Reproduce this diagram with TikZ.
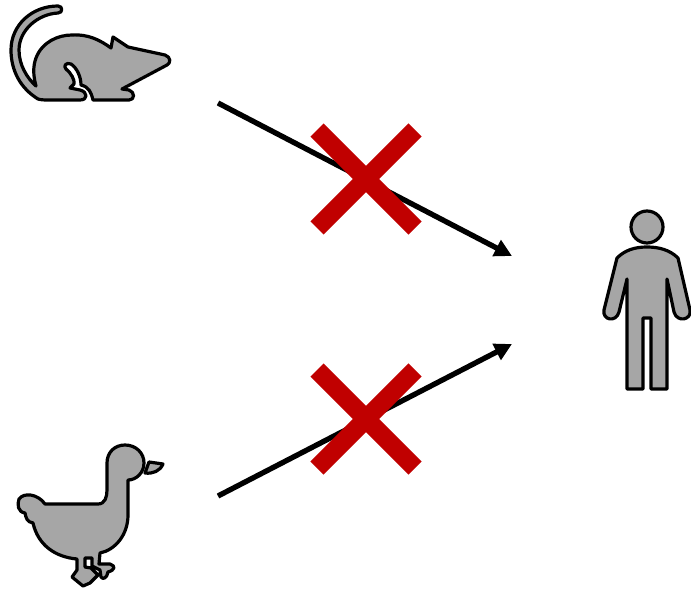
\documentclass[tikz,border=0pt]{standalone}
\usetikzlibrary{arrows.meta}
\definecolor{animalgray}{RGB}{166,166,166}
\definecolor{crossred}{RGB}{192,0,0}

\begin{document}
\begin{tikzpicture}[
    x=0.75pt, y=-0.75pt,
    animal/.style={draw=black, fill=animalgray, line width=2.4pt, line join=round},
    route/.style={draw=black, line width=4pt, -{Triangle[length=13pt,width=13pt]}},
    crossbar/.style={draw=crossred, line width=14pt}
]
\useasboundingbox (0,0) rectangle (691,588);

\coordinate (mousestart) at (218,103);
\coordinate (duckstart) at (218,496);
\coordinate (humantop) at (512,256);
\coordinate (humanbottom) at (512,344);
\coordinate (topcross) at (366,179);
\coordinate (bottomcross) at (366,419);

% mouse
\draw[animal] (38,99) .. controls (20,88) and (11,70) .. (11,50)
    .. controls (11,25) and (32,6) .. (58,6)
    .. controls (63,6) and (63,13) .. (58,13)
    .. controls (38,14) and (19,30) .. (19,50)
    .. controls (19,65) and (27,78) .. (36,86)
    .. controls (33,75) and (33,66) .. (36,58)
    .. controls (42,42) and (58,35) .. (72,35)
    .. controls (88,34) and (100,40) .. (111,48)
    -- (113,37) -- (128,47) -- (165,55)
    .. controls (171,57) and (171,63) .. (167,65)
    -- (122,89) -- (129,90)
    .. controls (135,92) and (135,100) .. (129,100)
    -- (93,100)
    .. controls (91,92) and (89,87) .. (81,85)
    .. controls (81,77) and (77,68) .. (71,64)
    .. controls (66,62) and (63,66) .. (66,69)
    .. controls (71,73) and (75,80) .. (74,84)
    -- (70,88) -- (80,90)
    .. controls (88,92) and (88,100) .. (80,100)
    -- (50,100) .. controls (45,100) and (41,100) .. (38,99) -- cycle;

% duck
\draw[animal] (45,504) -- (98,504)
    .. controls (105,504) and (107,497) .. (107,490)
    -- (107,463)
    .. controls (107,452) and (115,445) .. (125,445)
    .. controls (136,445) and (144,453) .. (144,463)
    .. controls (144,473) and (136,480) .. (128,480)
    -- (128,515)
    .. controls (128,535) and (115,550) .. (100,553)
    -- (99,564) -- (110,564)
    .. controls (116,566) and (115,570) .. (108,572)
    .. controls (107,578) and (103,580) .. (101,577)
    -- (100,570) -- (92,566) -- (92,558) -- (85,558) -- (85,567) -- (91,568)
    -- (98,575) -- (90,583) -- (83,586)
    -- (72,577) -- (77,570) -- (77,559)
    .. controls (55,557) and (38,545) .. (33,523)
    .. controls (27,522) and (26,518) .. (25,513)
    .. controls (18,512) and (17,505) .. (19,499)
    .. controls (24,492) and (38,494) .. (45,504) -- cycle;
\draw[animal] (145,473) -- (149,462) -- (163,464)
    .. controls (160,471) and (153,474) .. (145,473) -- cycle;

% human
\draw[animal] (647,227) circle (16);
\draw[animal] (617,258) .. controls (625,250) and (635,247) .. (647,247)
    .. controls (659,247) and (670,250) .. (678,258)
    -- (690,310)
    .. controls (692,320) and (677,323) .. (674,312)
    -- (667,279) -- (667,389) -- (651,389) -- (651,318) -- (643,318) -- (643,389) -- (627,389) -- (627,279)
    -- (619,312)
    .. controls (616,323) and (602,320) .. (604,310)
    -- (617,258) -- cycle;

% blocked routes
\draw[route] (mousestart) -- (humantop);
\draw[route] (duckstart) -- (humanbottom);

\foreach \crossname in {topcross,bottomcross} {
    \draw[crossbar] (\crossname) ++(-49,-49) -- ++(98,98);
    \draw[crossbar] (\crossname) ++(-49,49) -- ++(98,-98);
}
\end{tikzpicture}
\end{document}
